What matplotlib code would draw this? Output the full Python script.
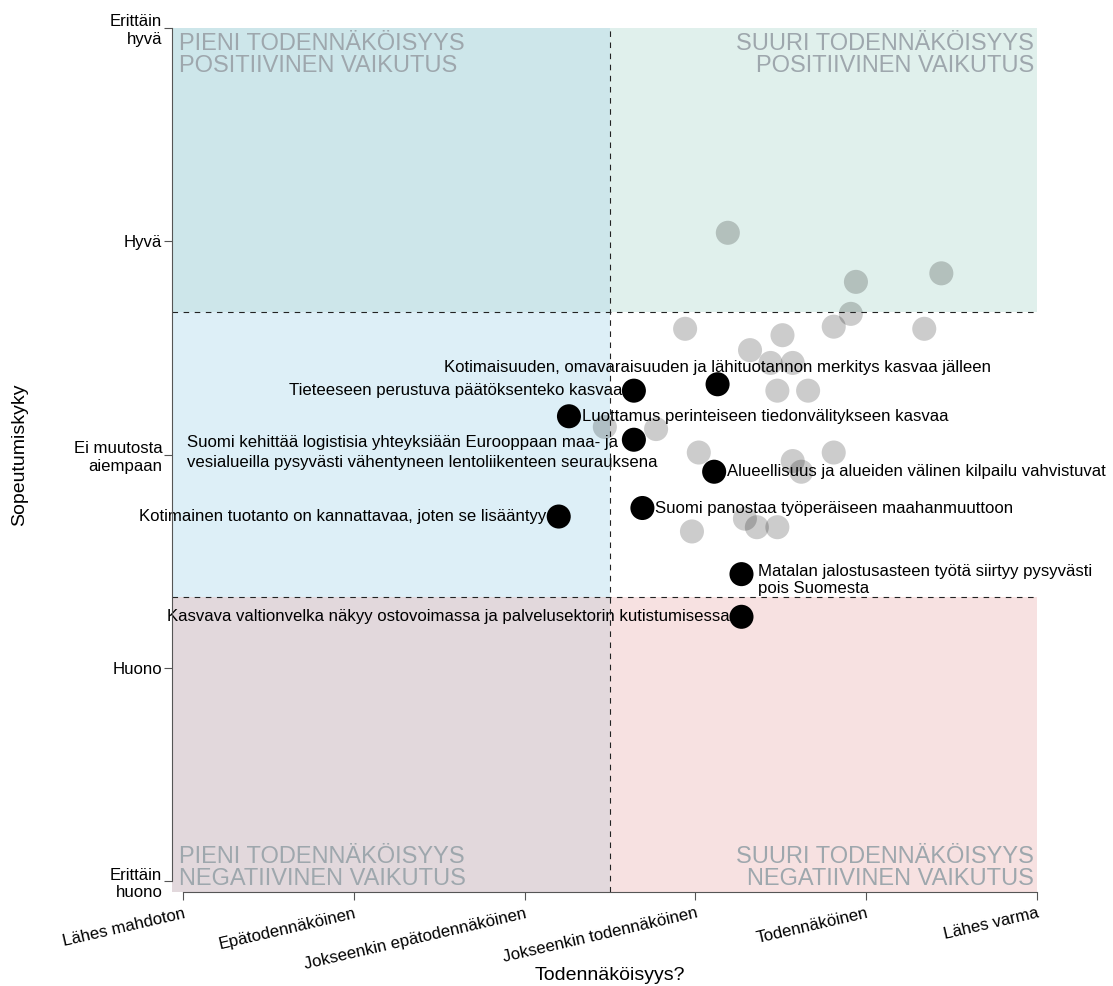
import matplotlib
matplotlib.use('Agg')
import matplotlib.pyplot as plt
from matplotlib.patches import Rectangle

plt.rcParams['font.family'] = ['Liberation Sans', 'DejaVu Sans']

# x: 0 = lähes mahdoton ... 5 = lähes varma
# y: -2 = erittäin huono ... 2 = erittäin hyvä
xTickLabels = ['Lähes mahdoton', 'Epätodennäköinen', 'Jokseenkin epätodennäköinen',
               'Jokseenkin todennäköinen', 'Todennäköinen', 'Lähes varma']
yTickLabels = ['Erittäin\nhuono', 'Huono', 'Ei muutosta\naiempaan', 'Hyvä', 'Erittäin\nhyvä']

# muut skenaariot (harmaat pallot)
otherX = [3.19, 3.94, 4.44, 3.91, 3.81, 2.94, 4.34, 3.51, 3.32, 3.44, 3.57, 3.48,
          3.66, 2.47, 2.77, 3.02, 3.57, 3.62, 3.81, 2.98, 3.29, 3.36, 3.48]
otherY = [1.04, 0.81, 0.85, 0.66, 0.60, 0.59, 0.59, 0.56, 0.49, 0.43, 0.43, 0.30,
          0.30, 0.13, 0.12, 0.01, -0.03, -0.08, 0.01, -0.36, -0.30, -0.34, -0.34]

# nimetyt skenaariot (mustat pallot)
selectedLabels = [
    'Kotimaisuuden, omavaraisuuden ja lähituotannon merkitys kasvaa jälleen',
    'Tieteeseen perustuva päätöksenteko kasvaa',
    'Luottamus perinteiseen tiedonvälitykseen kasvaa',
    'Suomi kehittää logistisia yhteyksiään Eurooppaan maa- ja\nvesialueilla pysyvästi vähentyneen lentoliikenteen seurauksena',
    'Alueellisuus ja alueiden välinen kilpailu vahvistuvat',
    'Kotimainen tuotanto on kannattavaa, joten se lisääntyy',
    'Suomi panostaa työperäiseen maahanmuuttoon',
    'Matalan jalostusasteen työtä siirtyy pysyvästi\npois Suomesta',
    'Kasvava valtionvelka näkyy ostovoimassa ja palvelusektorin kutistumisessa',
]
selectedX = [3.13, 2.64, 2.26, 2.64, 3.11, 2.20, 2.69, 3.27, 3.27]
selectedY = [0.33, 0.30, 0.18, 0.07, -0.08, -0.29, -0.25, -0.56, -0.76]
labelSide = ['top', 'left', 'right', 'left2', 'right', 'left', 'right', 'right2', 'left']

quadrantTexts = ['PIENI TODENNÄKÖISYYS\nPOSITIIVINEN VAIKUTUS',
                 'SUURI TODENNÄKÖISYYS\nPOSITIIVINEN VAIKUTUS',
                 'PIENI TODENNÄKÖISYYS\nNEGATIIVINEN VAIKUTUS',
                 'SUURI TODENNÄKÖISYYS\nNEGATIIVINEN VAIKUTUS']

xSplit = 2.5
ySplit = 2 / 3
xmin, xmax = -0.064, 5
ymin, ymax = -2.05, 2
fs = 12.1

fig = plt.figure(figsize=(11.13, 9.86), dpi=100)
ax = fig.add_axes([172 / 1113, 94 / 986, 865 / 1113, 864 / 986])
ax.set_xlim(xmin, xmax)
ax.set_ylim(ymin, ymax)

# taustavärit
bands = [
    (xmin, ySplit, xSplit - xmin, ymax - ySplit, '#cde6ea'),
    (xSplit, ySplit, xmax - xSplit, ymax - ySplit, '#e0f0ec'),
    (xmin, -ySplit, xSplit - xmin, 2 * ySplit, '#ddeff7'),
    (xmin, ymin, xSplit - xmin, -ySplit - ymin, '#e2d8dc'),
    (xSplit, ymin, xmax - xSplit, -ySplit - ymin, '#f7e1e1'),
]
for x0, y0, w, h, col in bands:
    ax.add_patch(Rectangle((x0, y0), w, h, facecolor=col, edgecolor='none', zorder=0))

ax.axvline(xSplit, color='#222222', lw=0.8, ls=(0, (5, 5)), zorder=5)
ax.axhline(ySplit, color='#222222', lw=0.8, ls=(0, (5, 5)), zorder=5)
ax.axhline(-ySplit, color='#222222', lw=0.8, ls=(0, (5, 5)), zorder=5)

qcol = '#9ea7ad'
ax.annotate(quadrantTexts[0], (0, 1), xycoords='axes fraction', xytext=(7, -5),
            textcoords='offset pixels', ha='left', va='top', fontsize=17, color=qcol, linespacing=1.0)
ax.annotate(quadrantTexts[1], (1, 1), xycoords='axes fraction', xytext=(-3, -5),
            textcoords='offset pixels', ha='right', va='top', fontsize=17, color=qcol, linespacing=1.0)
ax.annotate(quadrantTexts[2], (0, 0), xycoords='axes fraction', xytext=(7, 2),
            textcoords='offset pixels', ha='left', va='bottom', fontsize=17, color=qcol, linespacing=1.0)
ax.annotate(quadrantTexts[3], (1, 0), xycoords='axes fraction', xytext=(-3, 2),
            textcoords='offset pixels', ha='right', va='bottom', fontsize=17, color=qcol, linespacing=1.0)

ax.scatter(otherX, otherY, s=300, color='black', alpha=0.2, edgecolors='none', zorder=2)
ax.scatter(selectedX, selectedY, s=300, color='black', edgecolors='none', zorder=3)

offsets = {'top': ((0, 17), 'center'), 'left': ((-12, 0), 'right'),
           'right': ((13, 0), 'left'), 'right2': ((17, -6), 'left')}
for label, x, y, side in zip(selectedLabels, selectedX, selectedY, labelSide):
    if side == 'left2':
        first, second = label.split('\n')
        t1 = ax.annotate(first, (x, y), xytext=(-16, -3), textcoords='offset pixels',
                         ha='right', va='center', fontsize=fs, zorder=4)
        fig.canvas.draw()
        bb = t1.get_window_extent()
        px, py = ax.transData.transform((x, y))
        ax.annotate(second, (bb.x0, py - 23), xycoords='figure pixels',
                    ha='left', va='center', fontsize=fs, zorder=4)
        continue
    off, ha = offsets[side]
    ax.annotate(label, (x, y), xytext=off, textcoords='offset pixels',
                ha=ha, va='center', fontsize=fs, zorder=4)

# akselit
for s in ['top', 'right']:
    ax.spines[s].set_visible(False)
ax.spines['left'].set_bounds(-2, 2)
ax.spines['bottom'].set_bounds(0, 5)
for s in ['left', 'bottom']:
    ax.spines[s].set_color('#555555')
    ax.spines[s].set_linewidth(0.8)
    ax.spines[s].set_zorder(6)

ax.set_xticks(range(6))
ax.set_xticklabels(xTickLabels, rotation=13, ha='right', rotation_mode='anchor')
ax.set_yticks(range(-2, 3))
ax.set_yticklabels(yTickLabels)
ax.tick_params(axis='both', length=6, width=0.8, color='#555555', labelsize=fs)
ax.tick_params(axis='y', pad=1)
ax.tick_params(axis='x', pad=4)

fig.text(610 / 1113, 1 - 975 / 986, 'Todennäköisyys?', ha='center', va='center', fontsize=14)
fig.text(20 / 1113, 1 - 455 / 986, 'Sopeutumiskyky', ha='center', va='center',
         rotation=90, fontsize=14)

fig.savefig('out.png', dpi=100)
